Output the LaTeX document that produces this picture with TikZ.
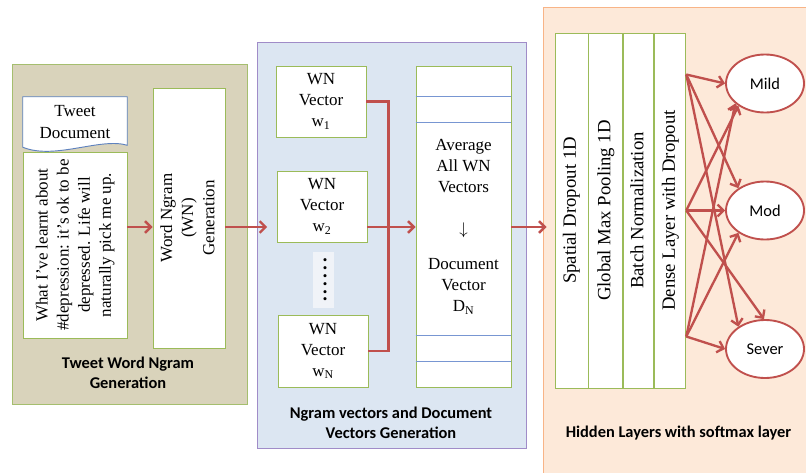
\documentclass[tikz,border=0pt]{standalone}
\usepackage{fontspec}
\setmainfont{Liberation Serif}
\newfontfamily\calibri{Carlito}
\usepackage{graphicx}
\usetikzlibrary{shapes.geometric,arrows.meta,positioning,calc,backgrounds}

\definecolor{tanfill}{RGB}{217,211,187}
\definecolor{tanline}{RGB}{165,190,110}
\definecolor{bluefill}{RGB}{220,230,242}
\definecolor{blueline}{RGB}{160,140,200}
\definecolor{peachfill}{RGB}{253,233,217}
\definecolor{peachline}{RGB}{248,180,135}
\definecolor{boxgreen}{RGB}{155,187,89}
\definecolor{docblue}{RGB}{95,130,190}
\definecolor{ruleblue}{RGB}{120,150,210}
\definecolor{arrowred}{RGB}{192,80,77}
\definecolor{dotfill}{RGB}{240,243,248}

% text turned to read bottom to top
\newcommand{\vtext}[1]{\rotatebox{90}{\begin{tabular}{@{}c@{}}#1\end{tabular}}}

\begin{document}
\begin{tikzpicture}[x=0.03cm, y=-0.03cm,
    serif/.style={font=\fontsize{14.5}{18}\selectfont},
    greenbox/.style={draw=boxgreen, line width=0.8pt, fill=white, inner sep=2pt, align=center, serif},
    layerbox/.style={greenbox, minimum height=10.65cm, font=\fontsize{16}{19}\selectfont},
    classnode/.style={ellipse, draw=arrowred, line width=1.6pt, fill=white, inner sep=0pt,
        minimum width=2.34cm, minimum height=1.74cm, font=\calibri\fontsize{14}{17}\selectfont},
    panellabel/.style={align=center, font=\calibri\bfseries\fontsize{14}{17}\selectfont},
    redline/.style={draw=arrowred, line width=2pt},
    redarrow/.style={redline, -{Straight Barb[length=5pt,width=10pt]}}]

    \useasboundingbox (0,0) rectangle (806,472);

    % the three stages
    \begin{scope}[on background layer]
        \fill[white] (0,0) rectangle (806,472);
        \filldraw[fill=tanfill, draw=tanline, line width=0.8pt] (12,64) rectangle (247,404);
        \filldraw[fill=bluefill, draw=blueline, line width=0.8pt] (257,42) rectangle (526,448);
        \filldraw[fill=peachfill, draw=peachline, line width=0.8pt] (543,7) rectangle (809,475);
    \end{scope}

    % tweet word ngram generation
    \node[serif, align=center, inner sep=0pt, minimum width=3.12cm, minimum height=1.5cm] (tweet) at (75,122) {Tweet\\Document};
    \begin{scope}[on background layer]
        \filldraw[draw=docblue, line width=0.8pt, fill=white] (tweet.south west) -- (tweet.north west) -- (tweet.north east)
            -- ([yshift=0.06cm]tweet.south east) .. controls +(-27,-8) and +(32,13) .. (tweet.south west) -- cycle;
    \end{scope}
    \node[greenbox, minimum width=3.12cm, minimum height=5.58cm] (tweettext) at (75,245)
        {\vtext{What I've learnt about\\\#depression: it's ok to be\\depressed. Life will\\naturally pick me up.}};
    \node[greenbox, minimum width=2.16cm, minimum height=7.8cm] (wordngram) at (189,218) {\vtext{Word Ngram\\(WN)\\Generation}};
    \node[panellabel] (label1) at (128,373) {Tweet Word Ngram\\Generation};

    % ngram vectors and document vector
    \node[greenbox, minimum width=2.7cm, minimum height=2.13cm] (vec1) at (321,101.5) {WN\\Vector\\w\textsubscript{1}};
    \node[greenbox, minimum width=2.7cm, minimum height=2.13cm] (vec2) at (322,206.5) {WN\\Vector\\w\textsubscript{2}};
    \node[fill=dotfill, inner sep=0pt, minimum width=0.63cm, minimum height=1.68cm] (dots) at (323.5,280)
        {\vtext{\fontsize{16}{18}\selectfont\textbf{.\,.\,.\,.\,.\,.}}};
    \node[greenbox, minimum width=2.7cm, minimum height=2.16cm] (vecN) at (323,351) {WN\\Vector\\w\textsubscript{N}};
    \node[greenbox, minimum width=2.85cm, minimum height=9.63cm] (avg) at (463.5,226.5)
        {Average\\All WN\\Vectors\\[18pt]$\downarrow$\\[12pt]Document\\Vector\\D\textsubscript{N}};
    \foreach \d in {31,57,270,296}
        \draw[ruleblue, line width=0.6pt] ($(avg.north west)+(0,\d)$) -- ($(avg.north east)+(0,\d)$);
    \node[panellabel] (label2) at (391,423) {Ngram vectors and Document\\Vectors Generation};

    % hidden layers and softmax
    \node[layerbox, minimum width=0.99cm] (spatial) at (571.5,210.5) {\vtext{Spatial Dropout 1D}};
    \node[layerbox, minimum width=1.02cm, right=0pt of spatial] (global) {\vtext{Global Max Pooling 1D}};
    \node[layerbox, minimum width=0.9cm, right=0pt of global] (batch) {\vtext{Batch Normalization}};
    \node[layerbox, minimum width=0.93cm, right=0pt of batch] (dense) {\vtext{Dense Layer with Dropout}};
    \node[classnode] (mild) at (765,83.5) {Mild};
    \node[classnode] (mod) at (765,210.5) {Mod};
    \node[classnode] (sever) at (765,349) {Sever};
    \node[panellabel] (label3) at (678.5,433) {Hidden Layers with softmax layer};

    \coordinate (mainrow) at (0,227);
    \coordinate (dtop) at ($(dense.north east)!0.118!(dense.south east)$);
    \coordinate (dmid) at (dense.east);
    \coordinate (dbot) at ($(dense.north east)!0.854!(dense.south east)$);

    \draw[redarrow] (tweettext.east |- mainrow) -- (wordngram.west |- mainrow);
    \draw[redarrow, shorten >=0.28cm] (wordngram.east |- mainrow) -- (vec2.west |- mainrow);
    \draw[redline] (vec1.east) -- ++(22,0) |- (vecN.east);
    \draw[redarrow] (vec2.east |- mainrow) -- (avg.west |- mainrow);
    \draw[redarrow, shorten >=0.24cm] (avg.east |- mainrow) -- (spatial.west |- mainrow);
    \foreach \s/\t in {dtop/mild.180, dtop/mod.140, dtop/sever.140,
                       dmid/mild.220, dmid/mod.180, dmid/sever.92,
                       dbot/mild.214, dbot/mod.220, dbot/sever.180}
        \draw[redarrow] (\s) -- (\t);
\end{tikzpicture}
\end{document}
